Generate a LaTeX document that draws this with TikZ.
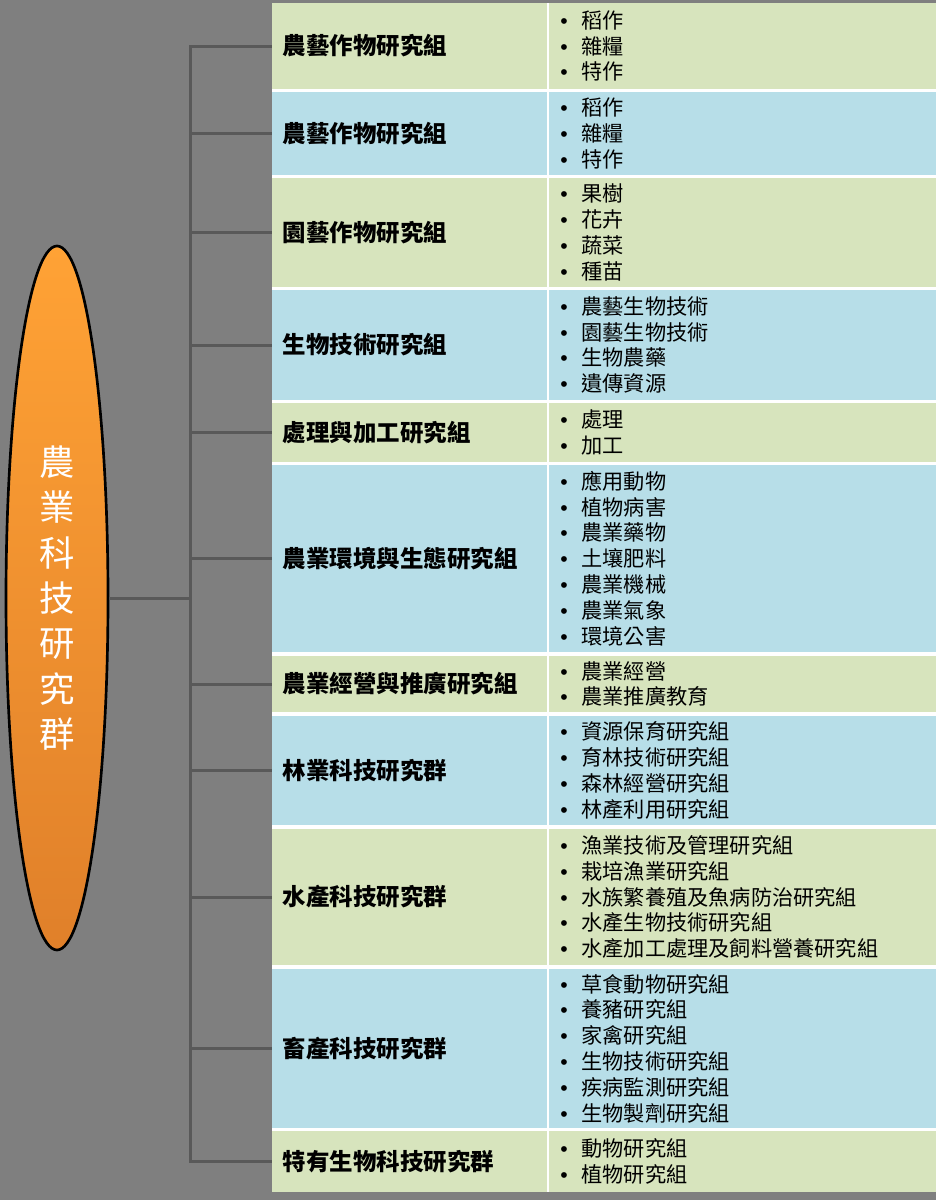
\documentclass[tikz,border=0pt]{standalone}
\usepackage{fontspec}
\setmainfont{Noto Sans CJK TC}
\newfontfamily\bulfont{Liberation Sans}
\usetikzlibrary{shapes.geometric}
\definecolor{bggray}{HTML}{7F7F7F}
\definecolor{conngray}{HTML}{595959}
\definecolor{rowgreen}{HTML}{D7E4BD}
\definecolor{rowblue}{HTML}{B7DEE8}
\definecolor{ortop}{HTML}{FFA235}
\definecolor{orbot}{HTML}{E0802A}
\newcommand\myb{\makebox[13pt][c]{\bulfont •}\hspace{6.5pt}}
\newcommand\trow[6]{%
  \node[lcell, fill=#4, minimum height={(#3-#2)*0.75pt}] (#1L) at (409.5,{(#2+#3)/2}) {#5};
  \node[rcell, fill=#4, minimum height={(#3-#2)*0.75pt}] (#1R) at (742.25,{(#2+#3)/2}) {#6};
  \draw[conn] (trunk |- #1L.west) -- (#1L.west);
}
\tikzset{
  conn/.style={draw=conngray, line width=2.25pt},
  lcell/.style={rectangle, inner xsep=8.25pt, inner ysep=0pt, text width=190pt, align=left,
    font=\fontsize{17.6}{21}\selectfont\bfseries, text=black},
  rcell/.style={rectangle, inner xsep=5.25pt, inner ysep=0pt, text width=280.1pt, align=left,
    font=\fontsize{15.9}{19.35}\selectfont, text=black},
  rootnode/.style={ellipse, draw=black, line width=2pt, top color=ortop, bottom color=orbot,
    minimum width=76.5pt, minimum height=528pt, inner sep=0pt, align=center, text=white,
    font=\fontsize{26.5}{34}\selectfont}
}
\begin{document}
\begin{tikzpicture}[x=0.75pt, y=-0.75pt]
\useasboundingbox (0,0) rectangle (936,1200);
\fill[bggray] (0,0) rectangle (936,1200);
\fill[white] (272,3) rectangle (936,1192);
\node[rootnode] (root) at (57,598) {農\\業\\科\\技\\研\\究\\群};
\coordinate (trunk) at (190,598);
\draw[conn] (root.east) -- (trunk);
\trow{r1}{3}{89}{rowgreen}{農藝作物研究組}{\myb 稻作\\\myb 雜糧\\\myb 特作}
\trow{r2}{92}{175}{rowblue}{農藝作物研究組}{\myb 稻作\\\myb 雜糧\\\myb 特作}
\trow{r3}{178}{287}{rowgreen}{園藝作物研究組}{\myb 果樹\\\myb 花卉\\\myb 蔬菜\\\myb 種苗}
\trow{r4}{290}{400}{rowblue}{生物技術研究組}{\myb 農藝生物技術\\\myb 園藝生物技術\\\myb 生物農藥\\\myb 遺傳資源}
\trow{r5}{403}{462}{rowgreen}{處理與加工研究組}{\myb 處理\\\myb 加工}
\trow{r6}{465}{652}{rowblue}{農業環境與生態研究組}{\myb 應用動物\\\myb 植物病害\\\myb 農業藥物\\\myb 土壤肥料\\\myb 農業機械\\\myb 農業氣象\\\myb 環境公害}
\trow{r7}{656}{712}{rowgreen}{農業經營與推廣研究組}{\myb 農業經營\\\myb 農業推廣教育}
\trow{r8}{716}{825}{rowblue}{林業科技研究群}{\myb 資源保育研究組\\\myb 育林技術研究組\\\myb 森林經營研究組\\\myb 林產利用研究組}
\trow{r9}{829}{965}{rowgreen}{水產科技研究群}{\myb 漁業技術及管理研究組\\\myb 栽培漁業研究組\\\myb 水族繁養殖及魚病防治研究組\\\myb 水產生物技術研究組\\\myb 水產加工處理及飼料營養研究組}
\trow{r10}{969}{1128}{rowblue}{畜產科技研究群}{\myb 草食動物研究組\\\myb 養豬研究組\\\myb 家禽研究組\\\myb 生物技術研究組\\\myb 疾病監測研究組\\\myb 生物製劑研究組}
\trow{r11}{1131}{1192}{rowgreen}{特有生物科技研究群}{\myb 動物研究組\\\myb 植物研究組}
\draw[conn, line cap=rect] (trunk |- r1L.west) -- (trunk |- r11L.west);
\end{tikzpicture}
\end{document}
